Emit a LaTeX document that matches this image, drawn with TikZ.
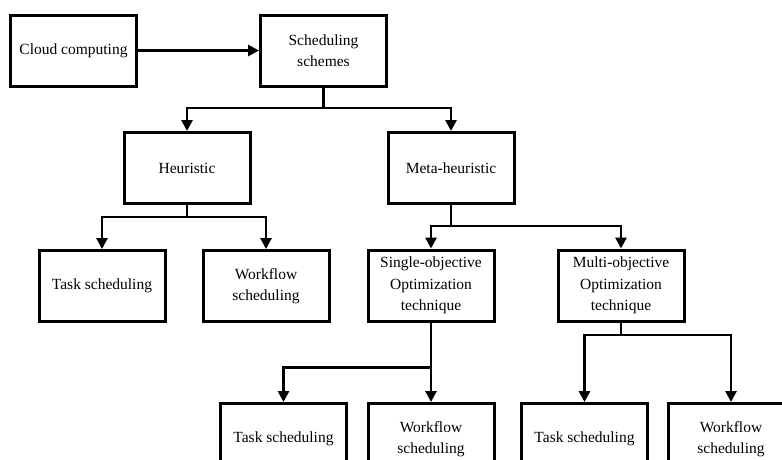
\documentclass[tikz,border=0pt]{standalone}
\usepackage{fontspec}
\setmainfont{Liberation Serif}
\usetikzlibrary{arrows.meta}
\begin{document}
\begin{tikzpicture}[x=1pt,y=-1pt,
  box/.style={draw=black, line width=3pt, minimum width=126pt, minimum height=71pt,
    inner sep=0pt, align=center, font=\fontsize{15.5}{21.5}\selectfont, fill=white},
  conn/.style={line width=2.8pt, draw=black},
  arr/.style={conn, -{Triangle[length=11pt,width=11pt]}}]
\clip (0,0) rectangle (782,459);
\useasboundingbox (0,0) rectangle (782,459);
\fill[white] (0,0) rectangle (782,459);
% nodes
\node[box] (cloud) at (73.5,50.5) {Cloud computing};
\node[box] (sched) at (323.5,50.5) {Scheduling\\schemes};
\node[box] (heur) at (187,168) {Heuristic};
\node[box] (meta) at (451,168) {Meta-heuristic};
\node[box] (task1) at (102,286) {Task scheduling};
\node[box] (wf1) at (266,286) {Workflow\\scheduling};
\node[box] (single) at (431,285.5) {Single-objective\\Optimization\\technique};
\node[box] (multi) at (621,285.5) {Multi-objective\\Optimization\\technique};
\node[box] (task2) at (283.5,439) {Task scheduling};
\node[box] (wf2) at (431,439) {Workflow\\scheduling};
\node[box] (task3) at (584.5,439) {Task scheduling};
\node[box] (wf3) at (731,439) {Workflow\\scheduling};
% junction coordinates
\coordinate (j1) at (323.5,108);
\coordinate (j2) at (187,217);
\coordinate (j3) at (451,226);
\coordinate (j4) at (431,367.5);
\coordinate (j5) at (621,335);
% connectors
\draw[arr] (cloud.east) -- (sched.west);
\draw[conn] (sched.south) -- (j1);
\draw[arr] (j1) -| (heur.north);
\draw[arr] (j1) -| (meta.north);
\draw[conn] (heur.south) -- (j2);
\draw[arr] (j2) -| (task1.north);
\draw[arr] (j2) -| (wf1.north);
\draw[conn] (meta.south) -- (j3);
\draw[arr] (j3) -| (single.north);
\draw[arr] (j3) -| (multi.north);
\draw[arr] (single.south) -- (wf2.north);
\draw[arr] (j4) -| (task2.north);
\draw[conn] (multi.south) -- (j5);
\draw[arr] (j5) -| (task3.north);
\draw[arr] (j5) -| (wf3.north);
\end{tikzpicture}
\end{document}
